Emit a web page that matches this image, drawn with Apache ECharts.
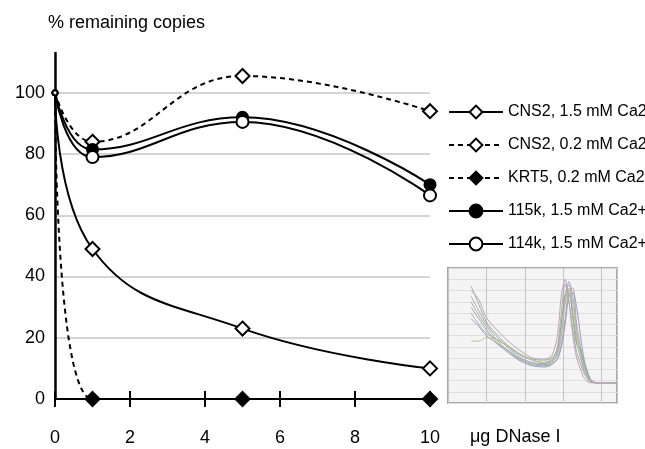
<!DOCTYPE html>
<html>
<head>
<meta charset="utf-8">
<script src="https://cdn.jsdelivr.net/npm/echarts@6/dist/echarts.min.js"></script>
<style>
  html, body { margin: 0; padding: 0; background: #fff; }
  #chart { width: 645px; height: 449px; }
</style>
</head>
<body>
<div id="chart"></div>
<script>
// DNase amounts (µg)
const doses = [0, 1, 5, 10];
const xTicks = [0, 2, 4, 6, 8, 10];
const yTicks = [0, 20, 40, 60, 80, 100];

const seriesNames = [
  "CNS2, 1.5 mM Ca2+",
  "CNS2, 0.2 mM Ca2+",
  "KRT5, 0.2 mM Ca2+",
  "115k, 1.5 mM Ca2+",
  "114k, 1.5 mM Ca2+",
];
const cns2High = [100, 49, 23, 10];
const cns2Low = [100, 84, 105.5, 94];
const krt5Low = [100, 0, 0, 0];
const k115High = [100, 81.5, 92, 70];
const k114High = [100, 79, 90.5, 66.5];

// inset: melting curves
const insetX = [0.6, 0.8, 1.0, 1.3, 1.6, 1.9, 2.2, 2.5, 2.7, 2.85, 2.95, 3.05, 3.15, 3.25, 3.35, 3.45, 3.55, 3.7, 3.85, 4.05, 4.4];
const melt1 = [10.4, 8.8, 7.2, 6.0, 5.0, 4.3, 3.9, 3.8, 4.0, 4.8, 7.0, 9.8, 10.5, 8.0, 5.5, 4.0, 2.8, 1.9, 1.8, 1.8, 1.8];
const melt2 = [9.5, 8.2, 7.0, 5.8, 4.8, 4.0, 3.6, 3.5, 3.7, 4.3, 6.0, 8.8, 10.8, 9.5, 6.5, 4.5, 3.0, 2.0, 1.8, 1.8, 1.8];
const melt3 = [9.0, 7.8, 6.8, 5.5, 4.5, 3.8, 3.4, 3.3, 3.5, 4.0, 5.2, 7.5, 10.0, 10.2, 7.0, 5.0, 3.2, 2.0, 1.8, 1.8, 1.8];
const melt4 = [8.5, 7.5, 6.5, 5.3, 4.6, 3.9, 3.5, 3.4, 3.6, 4.5, 6.8, 9.5, 9.8, 7.5, 5.2, 4.8, 3.5, 2.1, 1.8, 1.8, 1.8];
const melt5 = [8.0, 7.0, 6.2, 5.6, 4.9, 4.2, 3.8, 3.6, 3.8, 5.0, 8.0, 10.6, 9.0, 6.5, 4.5, 3.5, 2.6, 1.9, 1.8, 1.8, 1.8];
const melt6 = [7.5, 6.8, 6.0, 5.2, 4.4, 3.7, 3.3, 3.2, 3.4, 3.9, 5.0, 7.0, 9.5, 9.8, 8.5, 6.0, 3.8, 2.2, 1.8, 1.8, 1.8];
const melt7 = [5.5, 5.5, 5.8, 5.6, 5.0, 4.3, 3.8, 3.6, 3.9, 4.6, 6.5, 9.0, 10.2, 8.8, 6.0, 4.2, 2.9, 2.0, 1.8, 1.8, 1.8];
const melt8 = [10.0, 9.2, 7.6, 6.4, 5.4, 4.6, 4.0, 3.9, 4.2, 6.0, 9.5, 11.0, 9.0, 6.0, 4.0, 3.0, 2.2, 1.8, 1.8, 1.8, 1.8];
const meltCurves = [melt1, melt2, melt3, melt4, melt5, melt6, melt7, melt8];
const meltColors = ["#98b88e", "#a4aad6", "#c2a298", "#86ad9a", "#aaaaaa", "#939ccb", "#b9c28a", "#c49cc2"];

const FONT = "Liberation Sans";

function pairs(xs, ys) {
  return xs.map((x, i) => [x, ys[i]]);
}

function markerSize(big) {
  return function (val) {
    return val[0] === 0 ? 5 : big;
  };
}

function mainSeries(name, values, dashed, symbol, fill, size) {
  return {
    name: name,
    type: "line",
    xAxisIndex: 0,
    yAxisIndex: 0,
    data: pairs(doses, values),
    smooth: 0.45,
    clip: false,
    symbol: symbol,
    symbolSize: markerSize(size),
    showAllSymbol: true,
    lineStyle: { color: "#000", width: 2, type: dashed ? [5, 4] : "solid" },
    itemStyle: { color: fill, borderColor: "#000", borderWidth: 2 },
    emphasis: { disabled: true },
    z: 5,
  };
}

let series = [
  mainSeries(seriesNames[0], cns2High, false, "diamond", "#fff", 14),
  mainSeries(seriesNames[1], cns2Low, true, "diamond", "#fff", 14),
  mainSeries(seriesNames[2], krt5Low, true, "diamond", "#000", 14),
  mainSeries(seriesNames[3], k115High, false, "circle", "#000", 11),
  mainSeries(seriesNames[4], k114High, false, "circle", "#fff", 12),
];

meltCurves.forEach((c, i) => {
  series.push({
    type: "line",
    xAxisIndex: 2,
    yAxisIndex: 1,
    data: pairs(insetX, c),
    smooth: 0.3,
    symbol: "none",
    lineStyle: { color: meltColors[i], width: 1 },
    silent: true,
  });
});

echarts.init(document.querySelector("#chart")).setOption({
  animation: false,
  textStyle: { fontFamily: FONT },
  grid: [
    { left: 55, right: 215, top: 53, bottom: 50 },
    {
      left: 448, top: 268, width: 169, height: 135,
      show: true, backgroundColor: "#f4f4f4", borderColor: "#a8a8a8", borderWidth: 2,
    },
  ],
  xAxis: [
    {
      type: "value", gridIndex: 0, min: 0, max: 10, interval: 2,
      axisLine: { onZero: false, lineStyle: { color: "#000", width: 2 } },
      axisTick: { show: true, length: 8, lineStyle: { color: "#000", width: 2 } },
      axisLabel: {
        color: "#000", fontSize: 18, margin: 30,
        formatter: (v) => (xTicks.indexOf(v) >= 0 ? String(v) : ""),
      },
      splitLine: { show: false },
    },
    {
      type: "value", gridIndex: 0, min: 0, max: 10, interval: 2, position: "bottom",
      axisLine: { show: false },
      axisTick: { show: true, inside: true, length: 8, lineStyle: { color: "#000", width: 2 } },
      axisLabel: { show: false },
      splitLine: { show: false },
    },
    {
      type: "value", gridIndex: 1, min: 0, max: 4.4, interval: 1,
      axisLine: { show: false }, axisTick: { show: false }, axisLabel: { show: false },
      splitLine: { show: true, lineStyle: { color: "#c4c4c4", width: 1 } },
    },
  ],
  yAxis: [
    {
      type: "value", gridIndex: 0, min: 0, max: 113, interval: 20,
      axisLine: { show: true, lineStyle: { color: "#000", width: 2.5 } },
      axisTick: { show: false },
      axisLabel: {
        color: "#000", fontSize: 18, margin: 10, showMaxLabel: false,
        formatter: (v) => (yTicks.indexOf(v) >= 0 ? String(v) : ""),
      },
      splitLine: { show: true, showMinLine: false, showMaxLine: false, lineStyle: { color: "#c6c6c6", width: 1.5 } },
    },
    {
      type: "value", gridIndex: 1, min: 0, max: 12, interval: 1,
      axisLine: { show: false }, axisTick: { show: false }, axisLabel: { show: false },
      splitLine: { show: true, lineStyle: { color: "#dedede", width: 1 } },
    },
  ],
  legend: {
    data: seriesNames,
    orient: "vertical",
    left: 443,
    top: 97,
    itemWidth: 54,
    itemHeight: 16,
    itemGap: 13,
    selectedMode: false,
    textStyle: { color: "#000", fontSize: 16, lineHeight: 20, fontFamily: FONT },
  },
  graphic: [
    {
      type: "text", left: 48, top: 14,
      style: { text: "% remaining copies", fill: "#000", font: "18px " + FONT },
    },
    {
      type: "text", left: 470, top: 428,
      style: { text: "μg DNase I", fill: "#000", font: "18px " + FONT },
    },
  ],
  series: series,
});
</script>
</body>
</html>
